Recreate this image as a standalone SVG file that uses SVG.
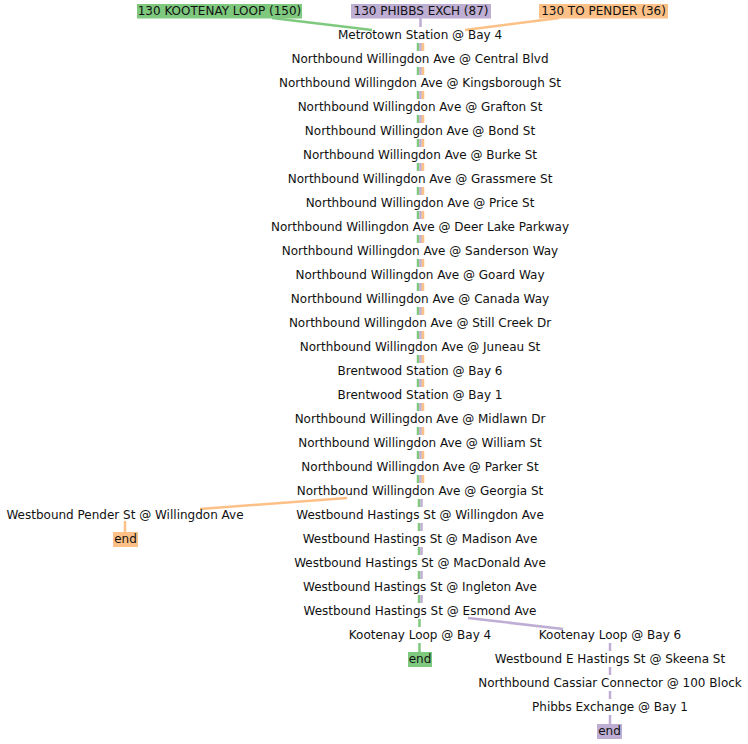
<svg xmlns="http://www.w3.org/2000/svg" width="748" height="744" viewBox="0 0 748 744">
<style>
text{font-family:"DejaVu Sans",sans-serif;font-size:12px;fill:#111;text-anchor:middle}
.g{stroke:#7fc97f;stroke-width:2.5;fill:none}
.p{stroke:#beaed4;stroke-width:2.5;fill:none}
.o{stroke:#fdc086;stroke-width:2.5;fill:none}
.gb{fill:#7fc97f}.pb{fill:#beaed4}.ob{fill:#fdc086}
</style>
<rect width="748" height="744" fill="#fff"/>
<g id="connectors">
<line class="g" x1="272" y1="18" x2="372" y2="30"/>
<line class="p" x1="420.5" y1="18" x2="420.5" y2="27"/>
<line class="o" x1="559" y1="18" x2="465" y2="30"/>
<path class="g" d="M418 43V51M418 67V75M418 91V99M418 115V123M418 139V147M418 163V171M418 187V195M418 211V219M418 235V243M418 259V267M418 283V291M418 307V315M418 331V339M418 355V363M418 379V387M418 403V411M418 427V435M418 451V459M418 475V483"/>
<path class="p" d="M420.5 43V51M420.5 67V75M420.5 91V99M420.5 115V123M420.5 139V147M420.5 163V171M420.5 187V195M420.5 211V219M420.5 235V243M420.5 259V267M420.5 283V291M420.5 307V315M420.5 331V339M420.5 355V363M420.5 379V387M420.5 403V411M420.5 427V435M420.5 451V459M420.5 475V483"/>
<path class="o" d="M423 43V51M423 67V75M423 91V99M423 115V123M423 139V147M423 163V171M423 187V195M423 211V219M423 235V243M423 259V267M423 283V291M423 307V315M423 331V339M423 355V363M423 379V387M423 403V411M423 427V435M423 451V459M423 475V483"/>
<path class="g" d="M419 499V507M419 523V531M419 547V555M419 571V579M419 595V603M419.5 619V627M419.5 643V652"/>
<path class="p" d="M421.5 499V507M421.5 523V531M421.5 547V555M421.5 571V579M421.5 595V603"/>
<line class="p" x1="468" y1="618" x2="563" y2="629"/>
<path class="p" d="M610 643V651M610 667V675M610 691V699M610 715V724"/>
<line class="o" x1="347" y1="498" x2="200" y2="509"/>
<line class="o" x1="125" y1="521" x2="125" y2="532"/>
</g>
<g id="hdr-kootenay"><rect class="gb" x="137" y="4" width="165" height="14.5"/><text x="219.5" y="15">130 KOOTENAY LOOP (150)</text></g>
<g id="hdr-phibbs"><rect class="pb" x="351" y="4" width="140" height="14.5"/><text x="421" y="15">130 PHIBBS EXCH (87)</text></g>
<g id="hdr-pender"><rect class="ob" x="539" y="4" width="129" height="14.5"/><text x="603.5" y="15">130 TO PENDER (36)</text></g>
<g id="n1"><text x="420" y="39">Metrotown Station @ Bay 4</text></g>
<g id="n2"><text x="420" y="63">Northbound Willingdon Ave @ Central Blvd</text></g>
<g id="n3"><text x="420" y="87">Northbound Willingdon Ave @ Kingsborough St</text></g>
<g id="n4"><text x="420" y="111">Northbound Willingdon Ave @ Grafton St</text></g>
<g id="n5"><text x="420" y="135">Northbound Willingdon Ave @ Bond St</text></g>
<g id="n6"><text x="420" y="159">Northbound Willingdon Ave @ Burke St</text></g>
<g id="n7"><text x="420" y="183">Northbound Willingdon Ave @ Grassmere St</text></g>
<g id="n8"><text x="420" y="207">Northbound Willingdon Ave @ Price St</text></g>
<g id="n9"><text x="420" y="231">Northbound Willingdon Ave @ Deer Lake Parkway</text></g>
<g id="n10"><text x="420" y="255">Northbound Willingdon Ave @ Sanderson Way</text></g>
<g id="n11"><text x="420" y="279">Northbound Willingdon Ave @ Goard Way</text></g>
<g id="n12"><text x="420" y="303">Northbound Willingdon Ave @ Canada Way</text></g>
<g id="n13"><text x="420" y="327">Northbound Willingdon Ave @ Still Creek Dr</text></g>
<g id="n14"><text x="420" y="351">Northbound Willingdon Ave @ Juneau St</text></g>
<g id="n15"><text x="420" y="375">Brentwood Station @ Bay 6</text></g>
<g id="n16"><text x="420" y="399">Brentwood Station @ Bay 1</text></g>
<g id="n17"><text x="420" y="423">Northbound Willingdon Ave @ Midlawn Dr</text></g>
<g id="n18"><text x="420" y="447">Northbound Willingdon Ave @ William St</text></g>
<g id="n19"><text x="420" y="471">Northbound Willingdon Ave @ Parker St</text></g>
<g id="n20"><text x="420" y="495">Northbound Willingdon Ave @ Georgia St</text></g>
<g id="n21"><text x="420" y="519">Westbound Hastings St @ Willingdon Ave</text></g>
<g id="n22"><text x="420" y="543">Westbound Hastings St @ Madison Ave</text></g>
<g id="n23"><text x="420" y="567">Westbound Hastings St @ MacDonald Ave</text></g>
<g id="n24"><text x="420" y="591">Westbound Hastings St @ Ingleton Ave</text></g>
<g id="n25"><text x="420" y="615">Westbound Hastings St @ Esmond Ave</text></g>
<g id="n26"><text x="420" y="639">Kootenay Loop @ Bay 4</text></g>
<g id="end-green"><rect class="gb" x="408" y="652" width="24" height="15"/><text x="420" y="663">end</text></g>
<g id="pender"><text x="125" y="519">Westbound Pender St @ Willingdon Ave</text></g>
<g id="end-orange"><rect class="ob" x="113" y="532" width="25" height="15"/><text x="125.5" y="543">end</text></g>
<g id="k6"><text x="610" y="639">Kootenay Loop @ Bay 6</text></g>
<g id="skeena"><text x="610" y="663">Westbound E Hastings St @ Skeena St</text></g>
<g id="cassiar"><text x="610" y="687">Northbound Cassiar Connector @ 100 Block</text></g>
<g id="phibbs"><text x="610" y="711">Phibbs Exchange @ Bay 1</text></g>
<g id="end-purple"><rect class="pb" x="597" y="724" width="25" height="15"/><text x="609.5" y="735">end</text></g>
</svg>
